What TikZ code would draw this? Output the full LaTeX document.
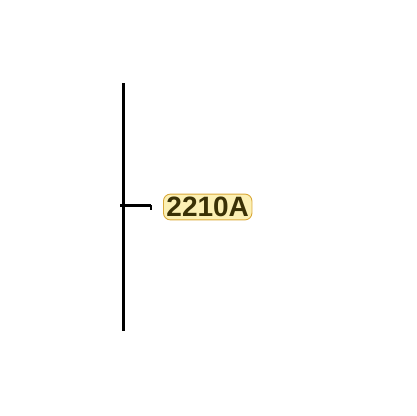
\documentclass[tikz,border=0pt]{standalone}
\usepackage{fontspec}
\setsansfont{Liberation Sans}
\definecolor{tagfill}{HTML}{FCF0B4}
\definecolor{tagedge}{HTML}{D9A93A}
\definecolor{tagtext}{HTML}{3A3105}
\tikzset{
  wire/.style={line width=3pt, black},
  tag/.style={draw=tagedge, fill=tagfill, rounded corners=7pt, line width=0.9pt,
    inner xsep=3pt, inner ysep=3pt, font=\sffamily\bfseries\fontsize{28}{28}\selectfont,
    text=tagtext}
}
\begin{document}
\begin{tikzpicture}[x=1pt,y=-1pt]
			\useasboundingbox (0,0) rectangle (416,416);
			\coordinate (top) at (123,83);
			\coordinate (bot) at (123,331);
			\coordinate (joint) at (120,205);
			\coordinate (tipend) at (151,205);
			\coordinate (tipdown) at (151,210);
			\draw[wire] (top) -- (bot);
			\draw[wire] (joint) -- (tipend);
			\draw[line width=2.5pt] (tipend) -- (tipdown);
			\node[tag, anchor=west] (lbl) at (163,207) {2210A};
			\end{tikzpicture}
\end{document}
